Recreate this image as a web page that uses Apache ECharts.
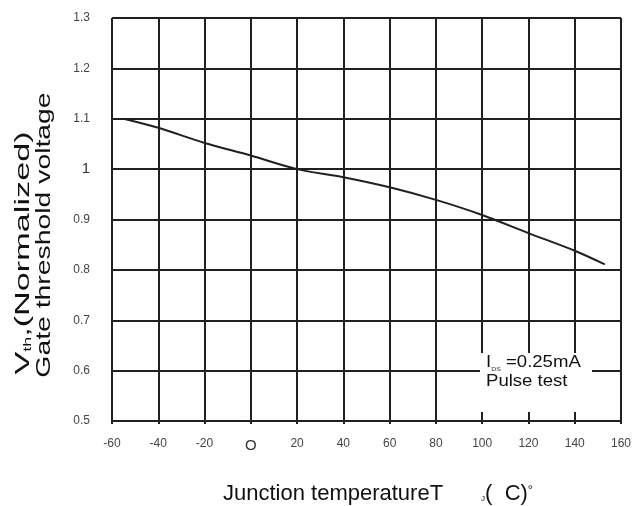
<!DOCTYPE html>
<html>
<head>
<meta charset="utf-8">
<script src="https://cdn.jsdelivr.net/npm/echarts@6/dist/echarts.min.js"></script>
<style>html,body{margin:0;padding:0;background:#fff}#c{width:634px;height:506px}</style>
</head>
<body>
<div id="c"></div>
<script>
// Data
var temperature = [-55, -40, -20, 0, 20, 40, 60, 80, 100, 120, 140, 153];
var vthNormalized = [1.100, 1.082, 1.052, 1.027, 1.000, 0.984, 0.964, 0.939, 0.909, 0.873, 0.838, 0.811];
var xTicks = [-60, -40, -20, 0, 20, 40, 60, 80, 100, 120, 140, 160];
var yTicks = [0.5, 0.6, 0.7, 0.8, 0.9, 1, 1.1, 1.2, 1.3];

var INK = '#231f20';
var FONT = 'Liberation Sans, Arial, Helvetica, sans-serif';
var chart = echarts.init(document.getElementById('c'));
var seriesData = temperature.map(function (t, i) { return [t, vthNormalized[i]]; });

chart.setOption({
  backgroundColor: '#fff',
  animation: false,
  grid: { left: 112, right: 10, top: 18, bottom: 85 },
  xAxis: {
    type: 'value',
    min: xTicks[0], max: xTicks[xTicks.length - 1], interval: 20,
    axisLine: { show: true, lineStyle: { color: INK, width: 2 } },
    axisTick: { show: true, length: 3, lineStyle: { color: INK, width: 2 } },
    splitLine: { show: true, lineStyle: { color: INK, width: 2 } },
    axisLabel: {
      margin: 17,
      color: '#444',
      fontFamily: FONT,
      fontSize: 12,
      formatter: function (v) { return v === 0 ? '{z|O}' : String(v); },
      rich: { z: { fontSize: 15, color: '#333', fontFamily: FONT } }
    }
  },
  yAxis: {
    type: 'value',
    min: yTicks[0], max: yTicks[yTicks.length - 1], interval: 0.1,
    axisLine: { show: true, lineStyle: { color: INK, width: 2 } },
    axisTick: { show: true, length: 3, lineStyle: { color: INK, width: 2 } },
    splitLine: { show: true, lineStyle: { color: INK, width: 2 } },
    axisLabel: {
      margin: 22,
      color: '#444',
      fontFamily: FONT,
      fontSize: 12,
      formatter: function (v) {
        var r = Math.round(v * 10) / 10;
        if (r === 1) return '{o|1}';
        return r.toFixed(1);
      },
      rich: { o: { fontSize: 15, color: '#333', fontFamily: FONT } }
    }
  },
  series: [{
    type: 'line',
    data: seriesData,
    smooth: 0.3,
    showSymbol: false,
    symbol: 'none',
    lineStyle: { color: INK, width: 2 },
    z: 5
  }],
  graphic: [
    {
      type: 'rect',
      shape: { x: 480, y: 353, width: 112, height: 59 },
      style: { fill: '#fff' },
      z: 100
    },
    {
      type: 'text',
      x: 486, y: 372,
      scaleX: 1.16,
      style: {
        text: 'I{s|DS} =0.25mA\nPulse test',
        rich: { s: { fontSize: 6, verticalAlign: 'bottom', padding: [8, 0, 0, 0], fill: '#333' } },
        font: '16px ' + FONT,
        fill: '#111',
        verticalAlign: 'middle',
        lineHeight: 19
      },
      z: 101
    },
    {
      type: 'text',
      x: 23, y: 253,
      rotation: Math.PI / 2,
      scaleX: 1.63,
      style: {
        text: 'V{s|th},(Normalized)',
        rich: { s: { fontSize: 11, padding: [9, 0, 0, 0], fill: '#111', fontFamily: FONT } },
        font: '21px ' + FONT,
        fill: '#111',
        align: 'center',
        verticalAlign: 'middle'
      }
    },
    {
      type: 'text',
      x: 44, y: 235,
      rotation: Math.PI / 2,
      scaleX: 1.35,
      style: {
        text: 'Gate threshold voltage',
        font: '21px ' + FONT,
        fill: '#111',
        align: 'center',
        verticalAlign: 'middle'
      }
    },
    {
      type: 'text',
      x: 223, y: 494,
      style: {
        text: 'Junction temperatureT{s|J}(  C){d|°}',
        rich: {
          s: { fontSize: 8, padding: [10, 0, 0, 38], fill: '#111', fontFamily: FONT },
          d: { fontSize: 13, padding: [0, 0, 8, 0], fill: '#111', fontFamily: FONT }
        },
        font: '22px ' + FONT,
        fill: '#111',
        verticalAlign: 'middle'
      }
    }
  ]
});
</script>
</body>
</html>
